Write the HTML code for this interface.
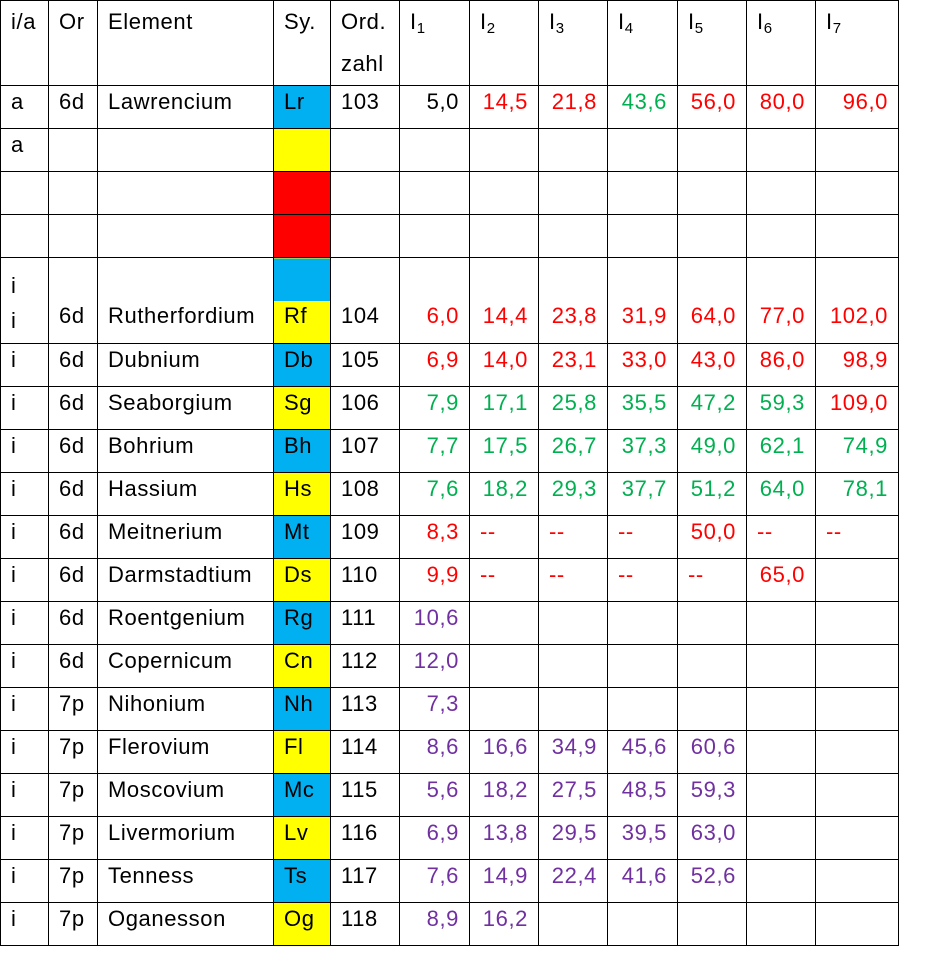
<!DOCTYPE html>
<html><head><meta charset="utf-8">
<style>
body{margin:0;background:#fff;width:945px;height:976px;overflow:hidden}
table{position:absolute;left:0;top:0;border-collapse:collapse;table-layout:fixed;font-family:"Liberation Sans",Arial,sans-serif;font-size:22px;letter-spacing:0.6px;color:#000}
td{border:1.6px solid #000;vertical-align:top;padding:4px 0 0 10px;line-height:24px;white-space:nowrap;overflow:hidden}
td.n{text-align:right;padding:4px 10px 0 0}
.r{color:#f00}.g{color:#00b050}.p{color:#7030a0}
.B{background:#00b0f0}.Y{background:#ffff00}.R{background:#f00}
tr{height:43px}
sub{font-size:15px;vertical-align:-4px;letter-spacing:0;line-height:0}
.hd td{line-height:42px;padding-top:0}
.two td{padding-top:46px}
.two td.ia{padding-top:10px;line-height:35px}
.RY{background:linear-gradient(#00b0f0 50%,#ffff00 50%)}
</style></head><body>
<table>
<colgroup><col style="width:48px"><col style="width:49px"><col style="width:176px"><col style="width:57px"><col style="width:69px"><col style="width:70px"><col style="width:69px"><col style="width:69px"><col style="width:70px"><col style="width:69px"><col style="width:69px"><col style="width:83px"></colgroup>
<tr class="hd" style="height:85px"><td>i/a</td><td>Or</td><td>Element</td><td>Sy.</td><td>Ord.<br>zahl</td><td>I<sub>1</sub></td><td>I<sub>2</sub></td><td>I<sub>3</sub></td><td>I<sub>4</sub></td><td>I<sub>5</sub></td><td>I<sub>6</sub></td><td>I<sub>7</sub></td></tr>
<tr><td>a</td><td>6d</td><td>Lawrencium</td><td class="B">Lr</td><td>103</td><td class="n">5,0</td><td class="n r">14,5</td><td class="n r">21,8</td><td class="n g">43,6</td><td class="n r">56,0</td><td class="n r">80,0</td><td class="n r">96,0</td></tr>
<tr><td>a</td><td></td><td></td><td class="Y"></td><td></td><td></td><td></td><td></td><td></td><td></td><td></td><td></td></tr>
<tr><td></td><td></td><td></td><td class="R"></td><td></td><td></td><td></td><td></td><td></td><td></td><td></td><td></td></tr>
<tr><td></td><td></td><td></td><td class="R"></td><td></td><td></td><td></td><td></td><td></td><td></td><td></td><td></td></tr>
<tr class="two" style="height:86px"><td class="ia">i<br>i</td><td>6d</td><td>Rutherfordium</td><td class="RY">Rf</td><td>104</td><td class="n r">6,0</td><td class="n r">14,4</td><td class="n r">23,8</td><td class="n r">31,9</td><td class="n r">64,0</td><td class="n r">77,0</td><td class="n r">102,0</td></tr>
<tr><td>i</td><td>6d</td><td>Dubnium</td><td class="B">Db</td><td>105</td><td class="n r">6,9</td><td class="n r">14,0</td><td class="n r">23,1</td><td class="n r">33,0</td><td class="n r">43,0</td><td class="n r">86,0</td><td class="n r">98,9</td></tr>
<tr><td>i</td><td>6d</td><td>Seaborgium</td><td class="Y">Sg</td><td>106</td><td class="n g">7,9</td><td class="n g">17,1</td><td class="n g">25,8</td><td class="n g">35,5</td><td class="n g">47,2</td><td class="n g">59,3</td><td class="n r">109,0</td></tr>
<tr><td>i</td><td>6d</td><td>Bohrium</td><td class="B">Bh</td><td>107</td><td class="n g">7,7</td><td class="n g">17,5</td><td class="n g">26,7</td><td class="n g">37,3</td><td class="n g">49,0</td><td class="n g">62,1</td><td class="n g">74,9</td></tr>
<tr><td>i</td><td>6d</td><td>Hassium</td><td class="Y">Hs</td><td>108</td><td class="n g">7,6</td><td class="n g">18,2</td><td class="n g">29,3</td><td class="n g">37,7</td><td class="n g">51,2</td><td class="n g">64,0</td><td class="n g">78,1</td></tr>
<tr><td>i</td><td>6d</td><td>Meitnerium</td><td class="B">Mt</td><td>109</td><td class="n r">8,3</td><td class="r">--</td><td class="r">--</td><td class="r">--</td><td class="n r">50,0</td><td class="r">--</td><td class="r">--</td></tr>
<tr><td>i</td><td>6d</td><td>Darmstadtium</td><td class="Y">Ds</td><td>110</td><td class="n r">9,9</td><td class="r">--</td><td class="r">--</td><td class="r">--</td><td class="r">--</td><td class="n r">65,0</td><td></td></tr>
<tr><td>i</td><td>6d</td><td>Roentgenium</td><td class="B">Rg</td><td>111</td><td class="n p">10,6</td><td></td><td></td><td></td><td></td><td></td><td></td></tr>
<tr><td>i</td><td>6d</td><td>Copernicum</td><td class="Y">Cn</td><td>112</td><td class="n p">12,0</td><td></td><td></td><td></td><td></td><td></td><td></td></tr>
<tr><td>i</td><td>7p</td><td>Nihonium</td><td class="B">Nh</td><td>113</td><td class="n p">7,3</td><td></td><td></td><td></td><td></td><td></td><td></td></tr>
<tr><td>i</td><td>7p</td><td>Flerovium</td><td class="Y">Fl</td><td>114</td><td class="n p">8,6</td><td class="n p">16,6</td><td class="n p">34,9</td><td class="n p">45,6</td><td class="n p">60,6</td><td></td><td></td></tr>
<tr><td>i</td><td>7p</td><td>Moscovium</td><td class="B">Mc</td><td>115</td><td class="n p">5,6</td><td class="n p">18,2</td><td class="n p">27,5</td><td class="n p">48,5</td><td class="n p">59,3</td><td></td><td></td></tr>
<tr><td>i</td><td>7p</td><td>Livermorium</td><td class="Y">Lv</td><td>116</td><td class="n p">6,9</td><td class="n p">13,8</td><td class="n p">29,5</td><td class="n p">39,5</td><td class="n p">63,0</td><td></td><td></td></tr>
<tr><td>i</td><td>7p</td><td>Tenness</td><td class="B">Ts</td><td>117</td><td class="n p">7,6</td><td class="n p">14,9</td><td class="n p">22,4</td><td class="n p">41,6</td><td class="n p">52,6</td><td></td><td></td></tr>
<tr><td>i</td><td>7p</td><td>Oganesson</td><td class="Y">Og</td><td>118</td><td class="n p">8,9</td><td class="n p">16,2</td><td></td><td></td><td></td><td></td><td></td></tr>
</table>
</body></html>
